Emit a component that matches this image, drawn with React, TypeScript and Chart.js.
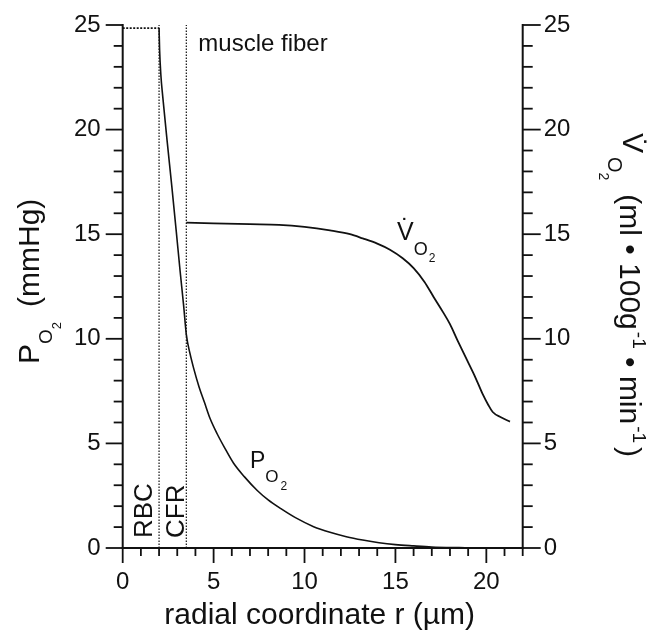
import React, { useEffect, useRef } from "react";
import { Chart, registerables } from "chart.js";

Chart.register(...registerables);

// ---- data ----
const RBC_R = [0, 2];
const RBC_PO2 = [24.85, 24.85];

const PO2_R = [2.0, 2.03, 2.1, 2.2, 2.45, 2.7, 2.95, 3.15, 3.35, 3.5, 3.7, 3.9, 4.2, 4.5, 4.8, 5.2, 5.6, 6.1, 6.7, 7.4, 8.0, 8.7, 9.5, 10.5, 11.4, 12.3, 13.2, 14.1, 15.0, 16.0, 17.0, 18.5, 20.0, 21.3];
const PO2_VAL = [24.85, 23.8, 22.6, 21.6, 19.4, 17.3, 15.1, 13.3, 11.6, 10.2, 9.3, 8.6, 7.7, 6.95, 6.2, 5.45, 4.8, 4.05, 3.4, 2.75, 2.3, 1.88, 1.45, 1.02, 0.75, 0.54, 0.38, 0.25, 0.16, 0.1, 0.05, 0.02, 0.0, 0.0];

const VO2_R = [3.5, 5, 7, 8.6, 10, 11.4, 12.5, 13.2, 14, 14.7, 15.4, 16.0, 16.6, 17.1, 17.6, 18.0, 18.4, 18.9, 19.4, 19.8, 20.1, 20.35, 20.8, 21.3];
const VO2_VAL = [15.55, 15.52, 15.48, 15.45, 15.35, 15.18, 15.0, 14.8, 14.55, 14.26, 13.85, 13.38, 12.72, 12.0, 11.3, 10.7, 9.95, 9.05, 8.15, 7.35, 6.85, 6.5, 6.25, 6.04];

const BOUNDARY_R = [2, 3.5];

const X_MIN = 0;
const X_MAX = 22;
const Y_MIN = 0;
const Y_MAX = 25;
const MAJOR_STEP = 5;
const MINOR_STEP = 1;

const X_TITLE = "radial coordinate r (µm)";
const REGION_LABELS = ["RBC", "CFR"];
const FIBER_LABEL = "muscle fiber";

const FONT = "'Liberation Sans', Arial, Helvetica, sans-serif";
const INK = "#111111";

type Run = { t: string; size: number; dy: number; gap?: number };

function runsWidth(ctx: CanvasRenderingContext2D, runs: Run[]) {
  let w = 0;
  for (const r of runs) {
    w += r.gap || 0;
    ctx.font = `${r.size}px ${FONT}`;
    w += ctx.measureText(r.t).width;
  }
  return w;
}

function drawRuns(ctx: CanvasRenderingContext2D, x: number, y: number, angle: number, runs: Run[]) {
  ctx.save();
  ctx.translate(x, y);
  ctx.rotate(angle);
  ctx.textAlign = "left";
  ctx.textBaseline = "alphabetic";
  ctx.fillStyle = INK;
  let cx = 0;
  for (const r of runs) {
    cx += r.gap || 0;
    ctx.font = `${r.size}px ${FONT}`;
    ctx.fillText(r.t, cx, r.dy);
    cx += ctx.measureText(r.t).width;
  }
  ctx.restore();
}

function drawDotOver(ctx: CanvasRenderingContext2D, x: number, y: number, angle: number, localX: number, vWidth: number, size: number, dy: number) {
  ctx.save();
  ctx.translate(x, y);
  ctx.rotate(angle);
  ctx.font = `${size}px ${FONT}`;
  ctx.textAlign = "center";
  ctx.textBaseline = "alphabetic";
  ctx.fillStyle = INK;
  ctx.fillText("\u02D9", localX + vWidth / 2, dy);
  ctx.restore();
}

const decorPlugin = {
  id: "decor",
  afterDraw(chart: any) {
    const { ctx, chartArea } = chart;
    const { left, right, bottom } = chartArea;
    const xs = chart.scales.x;
    const yl = chart.scales.y;
    const yr = chart.scales.y2;
    const top = yl.getPixelForValue(Y_MAX);
    ctx.save();
    ctx.strokeStyle = INK;
    ctx.lineWidth = 2;
    ctx.lineCap = "butt";
    const line = (x1: number, y1: number, x2: number, y2: number) => {
      ctx.beginPath();
      ctx.moveTo(x1, y1);
      ctx.lineTo(x2, y2);
      ctx.stroke();
    };
    // axis lines
    line(left, top - 1, left, bottom + 1);
    line(right, top - 1, right, bottom + 1);
    line(left - 1, bottom, right + 1, bottom);
    ctx.lineWidth = 1.8;
    // y ticks
    for (let v = Y_MIN; v <= Y_MAX + 1e-9; v += MINOR_STEP) {
      const major = Math.abs(v % MAJOR_STEP) < 1e-9;
      const pl = yl.getPixelForValue(v);
      line(left - (major ? 17 : 9), pl, left, pl);
      const pr = yr.getPixelForValue(v);
      line(right, pr, right + (major ? 18 : 10), pr);
    }
    // x ticks
    for (let v = X_MIN; v <= X_MAX + 1e-9; v += MINOR_STEP) {
      const major = Math.abs(v % MAJOR_STEP) < 1e-9;
      const px = xs.getPixelForValue(v);
      line(px, bottom, px, bottom + (major ? 15 : 8));
    }

    // x title
    ctx.fillStyle = INK;
    ctx.font = `30px ${FONT}`;
    ctx.textAlign = "center";
    ctx.textBaseline = "alphabetic";
    ctx.fillText(X_TITLE, (left + right) / 2 - 3, 624);

    // left title: P_O2 (mmHg), rotated -90
    const leftRuns: Run[] = [
      { t: "P", size: 30, dy: 0 },
      { t: "O", size: 19, dy: 13 },
      { t: "2", size: 13, dy: 22 },
      { t: "(mmHg)", size: 30, dy: 0, gap: 15 },
    ];
    drawRuns(ctx, 39, 364, -Math.PI / 2, leftRuns);

    // right title: V̇O2 (ml • 100g-1 • min-1), rotated +90
    const rightRuns: Run[] = [
      { t: "V", size: 30, dy: 0 },
      { t: "O", size: 20, dy: 15, gap: 4 },
      { t: "2", size: 14, dy: 24 },
      { t: "(ml • 100g", size: 30, dy: 3, gap: 14 },
      { t: "-1", size: 19, dy: -10, gap: 2 },
      { t: " • min", size: 30, dy: 3 },
      { t: "-1", size: 19, dy: -10, gap: 2 },
      { t: ")", size: 30, dy: 3, gap: 4 },
    ];
    const rw = runsWidth(ctx, rightRuns);
    const ry = 295 - rw / 2;
    drawRuns(ctx, 623, ry, Math.PI / 2, rightRuns);
    ctx.font = `30px ${FONT}`;
    const vW = ctx.measureText("V").width;
    drawDotOver(ctx, 623, ry, Math.PI / 2, 0, vW, 30, -2);

    // region labels
    const x2 = xs.getPixelForValue(BOUNDARY_R[0]);
    const x35 = xs.getPixelForValue(BOUNDARY_R[1]);
    drawRuns(ctx, x2 - 7, 538, -Math.PI / 2, [{ t: REGION_LABELS[0], size: 26, dy: 0 }]);
    drawRuns(ctx, x35 - 2, 538, -Math.PI / 2, [{ t: REGION_LABELS[1], size: 26, dy: 0 }]);
    drawRuns(ctx, x35 + 12, 51, 0, [{ t: FIBER_LABEL, size: 24, dy: 0 }]);

    // curve labels
    drawRuns(ctx, 250, 468, 0, [
      { t: "P", size: 23, dy: 0 },
      { t: "O", size: 17, dy: 14 },
      { t: "2", size: 12, dy: 22, gap: 2 },
    ]);
    drawRuns(ctx, 397, 240, 0, [
      { t: "V", size: 25, dy: 0 },
      { t: "O", size: 18, dy: 15 },
      { t: "2", size: 12, dy: 22, gap: 1 },
    ]);
    ctx.font = `25px ${FONT}`;
    const vw2 = ctx.measureText("V").width;
    drawDotOver(ctx, 397, 240, 0, 0, vw2, 25, -3);

    ctx.restore();
  },
};

export default function App() {
  const ref = useRef<HTMLCanvasElement | null>(null);

  useEffect(() => {
    const canvas = ref.current;
    if (!canvas) return;
    const pts = (xs: number[], ys: number[]) => xs.map((x, i) => ({ x, y: ys[i] }));
    const tickFont = { family: FONT, size: 24 };
    const chart = new Chart(canvas, {
      type: "line",
      data: {
        datasets: [
          {
            label: "PO2 RBC",
            data: pts(RBC_R, RBC_PO2),
            yAxisID: "y",
            borderColor: INK,
            borderWidth: 1.6,
            borderDash: [2, 1.5],
            pointRadius: 0,
          },
          {
            label: "PO2",
            data: pts(PO2_R, PO2_VAL),
            yAxisID: "y",
            borderColor: INK,
            borderWidth: 1.6,
            pointRadius: 0,
            cubicInterpolationMode: "monotone",
          },
          {
            label: "VO2",
            data: pts(VO2_R, VO2_VAL),
            yAxisID: "y2",
            borderColor: INK,
            borderWidth: 1.8,
            pointRadius: 0,
            cubicInterpolationMode: "monotone",
          },
          ...BOUNDARY_R.map((r) => ({
            label: "boundary " + r,
            data: [
              { x: r, y: Y_MIN },
              { x: r, y: Y_MAX },
            ],
            yAxisID: "y",
            borderColor: "#222222",
            borderWidth: 1.3,
            borderDash: [1.5, 1.5],
            pointRadius: 0,
          })),
        ] as any,
      },
      options: {
        responsive: false,
        animation: false,
        layout: { padding: { top: 25, left: 0, right: 0, bottom: 0 } },
        plugins: {
          legend: { display: false },
          tooltip: { enabled: false },
          title: { display: false },
        },
        scales: {
          x: {
            type: "linear",
            position: "bottom",
            min: X_MIN,
            max: X_MAX,
            grid: { display: false, drawTicks: false, tickLength: 0 },
            border: { display: false },
            ticks: {
              stepSize: MAJOR_STEP,
              includeBounds: false,
              font: tickFont,
              color: INK,
              padding: 20,
              maxRotation: 0,
              autoSkip: false,
            },
            afterFit: (s: any) => {
              s.height = 82;
              s.paddingLeft = 0;
              s.paddingRight = 0;
            },
          },
          y: {
            type: "linear",
            position: "left",
            min: Y_MIN,
            max: Y_MAX,
            grid: { display: false, drawTicks: false, tickLength: 0 },
            border: { display: false },
            ticks: { stepSize: MAJOR_STEP, font: tickFont, color: INK, padding: 22 },
            afterFit: (s: any) => {
              s.width = 122.7;
              s.paddingTop = 0;
              s.paddingBottom = 0;
            },
          },
          y2: {
            type: "linear",
            position: "right",
            min: Y_MIN,
            max: Y_MAX,
            grid: { display: false, drawTicks: false, tickLength: 0 },
            border: { display: false },
            ticks: { stepSize: MAJOR_STEP, font: tickFont, color: INK, padding: 21 },
            afterFit: (s: any) => {
              s.width = 130.3;
              s.paddingTop = 0;
              s.paddingBottom = 0;
            },
          },
        },
      } as any,
      plugins: [decorPlugin],
    });
    return () => chart.destroy();
  }, []);

  return (
    <div style={{ position: "fixed", left: 0, top: 0, width: 653, height: 630, background: "#ffffff" }}>
      <canvas ref={ref} width={653} height={630} style={{ display: "block" }} />
    </div>
  );
}
